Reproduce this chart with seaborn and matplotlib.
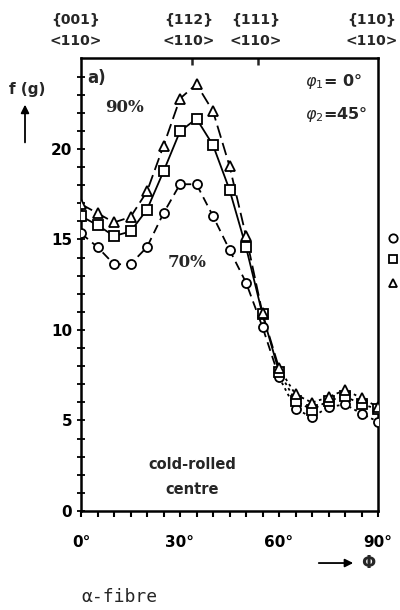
import pandas as pd
import matplotlib.pyplot as plt
import numpy as np
import seaborn as sns

sns.set_theme(style="ticks")
plt.rcParams['font.family'] = ['DejaVu Sans']

phi = [0, 5, 10, 15, 20, 25, 30, 35, 40, 45, 50, 55, 60, 65, 70, 75, 80, 85, 90]
f_70 = [15.34, 14.58, 13.63, 13.63, 14.58, 16.45, 18.05, 18.05, 16.29, 14.43, 12.62, 10.16,
        7.4, 5.64, 5.18, 5.74, 5.89, 5.38, 4.93]
f_80 = [16.29, 15.79, 15.19, 15.44, 16.65, 18.76, 20.97, 21.67, 20.21, 17.75, 14.58, 10.86,
        7.7, 6.09, 5.59, 6.09, 6.34, 5.89, 5.64]
f_90 = [16.95, 16.45, 15.94, 16.24, 17.65, 20.17, 22.78, 23.58, 22.08, 19.06, 15.19, 10.91,
        7.9, 6.44, 5.99, 6.29, 6.69, 6.24, 5.74]

top_ticks = [33.5, 53.5]
top_label_pos = [-1.5, 32.5, 53.0, 88.0]
top_labels = ["{001}\n<110>", "{112}\n<110>", "{111}\n<110>", "{110}\n<110>"]

series = [(f_70, 'o', (0, (5, 3))), (f_80, 's', '-'), (f_90, '^', (0, (7, 3)))]

fig = plt.figure(figsize=(4, 6.1), dpi=100)
ax = fig.add_axes([0.2025, 0.1623, 0.7425, 0.7434])

for vals, mk, ls in series:
    df = pd.DataFrame({'phi': phi, 'f': vals})
    head = df[df['phi'] <= 60]
    tail = df[df['phi'] >= 60]
    sns.lineplot(data=head, x='phi', y='f', ax=ax, color='black', lw=1.3,
                 linestyle=ls)
    sns.lineplot(data=tail, x='phi', y='f', ax=ax, color='black', lw=1.3,
                 linestyle=(0, (1.5, 2)))
    ax.plot(df['phi'], df['f'], linestyle='none', marker=mk, ms=6.5,
            mfc='white', mec='black', mew=1.3, zorder=5)

ax.set_xlim(0, 90)
ax.set_ylim(0, 25.05)
ax.set_xticks([0, 30, 60, 90])
ax.set_xticklabels(["0°", "30°", "60°", "90°"])
ax.set_xticks(np.arange(0, 91, 5), minor=True)
ax.set_yticks([0, 5, 10, 15, 20])
ax.set_yticks(np.arange(0, 25, 1), minor=True)
ax.tick_params(axis='x', which='both', direction='out', length=4, width=1.5,
               labelsize=11, pad=13, colors='black')
ax.tick_params(axis='y', which='both', direction='inout', length=6, width=1.3,
               labelsize=11, colors='black')
for t in ax.get_xticklabels() + ax.get_yticklabels():
    t.set_fontweight('bold')
ax.set_xlabel('')
ax.set_ylabel('')
for s in ['left', 'bottom', 'right', 'top']:
    ax.spines[s].set_linewidth(1.8)
    ax.spines[s].set_color('black')

top = ax.secondary_xaxis('top')
top.set_xticks(top_ticks)
top.set_xticklabels([])
top.tick_params(direction='in', length=5, width=1.8)
top.set_xticks([], minor=True)
top.spines['top'].set_visible(False)
for xp, lab in zip(top_label_pos, top_labels):
    ax.text(xp, 1.022, lab, transform=ax.get_xaxis_transform(), ha='center', va='bottom',
            fontsize=10, fontweight='bold', linespacing=1.65)

ax.text(2.0, 23.9, "a)", fontsize=12, fontweight='bold', va='center')
ax.text(13.3, 22.3, "90%", fontsize=12, fontweight='bold', family='DejaVu Serif',
        va='center', ha='center')
ax.text(32.1, 13.7, "70%", fontsize=12, fontweight='bold', family='DejaVu Serif',
        va='center', ha='center')
ax.text(68, 23.7, r"$\varphi_1$= 0°", fontsize=11.5, fontweight='bold', va='center')
ax.text(68, 21.9, r"$\varphi_2$=45°", fontsize=11.5, fontweight='bold', va='center')
ax.text(33.6, 1.9, "cold-rolled\ncentre", fontsize=10.5, fontweight='bold',
        ha='center', va='center', linespacing=1.85)

fig.text(0.067, 0.854, "f (g)", fontsize=11, fontweight='bold', ha='center', va='center')
fig.add_artist(plt.Annotation('', xy=(0.0625, 0.833), xytext=(0.0625, 0.762),
                              xycoords='figure fraction',
                              arrowprops=dict(arrowstyle='-|>', color='black', lw=1.3)))
fig.add_artist(plt.Annotation('', xy=(0.89, 0.077), xytext=(0.79, 0.077),
                              xycoords='figure fraction',
                              arrowprops=dict(arrowstyle='-|>', color='black', lw=1.3)))
fig.text(0.92, 0.077, "Φ", fontsize=12, fontweight='bold', ha='center', va='center')
fig.text(0.203, 0.021, "α-fibre", fontsize=13, family='DejaVu Sans Mono', ha='left', va='center')

for yy, mk in [(0.61, 'o'), (0.576, 's'), (0.536, '^')]:
    fig.add_artist(plt.Line2D([0.983], [yy], marker=mk, ms=6, mfc='white', mec='black',
                              mew=1.3, transform=fig.transFigure))

fig.savefig("out.png", dpi=100)
